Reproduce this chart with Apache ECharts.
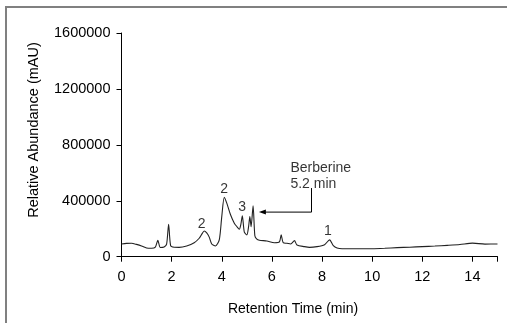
<!DOCTYPE html>
<html><head><meta charset="utf-8">
<script src="https://cdn.jsdelivr.net/npm/echarts@6/dist/echarts.min.js"></script>
<style>html,body{margin:0;padding:0;background:#fff}#c{width:507px;height:323px}</style>
</head><body><div id="c"></div>
<script>
const time = [0,0.2,0.4,0.6,0.8,1.0,1.2,1.35,1.45,1.55,1.7,1.8,1.88,1.96,2.1,2.3,2.6,2.9,3.1,3.2,3.3,3.4,3.5,3.6,3.75,3.9,4.0,4.1,4.2,4.35,4.5,4.6,4.7,4.76,4.82,4.9,5.0,5.07,5.12,5.17,5.25,5.32,5.4,5.5,5.8,6.1,6.3,6.37,6.45,6.6,6.75,6.9,7.0,7.3,7.5,7.8,8.1,8.3,8.45,8.6,8.8,9.5,10,10.5,11,11.5,12,12.5,13,13.5,14,14.5,15];
const abundance = [91000,95000,96000,88000,77000,62000,60000,68000,117000,66000,70000,90000,232000,80000,68000,67000,77000,100000,132000,160000,184000,170000,140000,91000,77000,120000,287000,424000,383000,300000,240000,216000,196000,230000,292000,175000,156000,215000,287000,215000,364000,150000,125000,118000,112000,100000,106000,156000,100000,96000,91000,115000,84000,72000,67000,72000,86000,120000,79000,62000,57000,57000,57000,60000,65000,68000,72000,76000,81000,87000,97000,90000,91000];
const peakTime = [3.2, 4.09, 4.81, 8.23];
const peakLabelY = [233000, 484000, 355000, 184000];
const peakNames = ['2','2','3','1'];
const noteTime = [6.72];
const noteY = [690000];
const noteText = ['Berberine\n5.2 min'];
const arrowTime = [7.58, 7.58, 5.62];
const arrowY = [491000, 319000, 319000];
const xTicks = [0,2,4,6,8,10,12,14];
const yTicks = [0,400000,800000,1200000,1600000];
const xTitle = 'Retention Time (min)';
const yTitle = 'Relative Abundance (mAU)';

const chart = echarts.init(document.getElementById('c'));
const font = 'Liberation Sans, Arial, sans-serif';
chart.setOption({
  animation: false,
  graphic: [
    {type:'rect', shape:{x:6,y:7,width:540,height:340}, style:{fill:'none', stroke:'#808080', lineWidth:2}, silent:true},
    {type:'text', x:293, y:309, style:{text:xTitle, font:'14px ' + font, fill:'#000', align:'center', verticalAlign:'middle'}},
    {type:'text', x:34, y:130, rotation:Math.PI/2, style:{text:yTitle, font:'14.5px ' + font, fill:'#000', align:'center', verticalAlign:'middle'}}
  ],
  grid: {left:121.5, right:9.5, top:33, bottom:66.3},
  xAxis: {type:'value', min:0, max:15, interval:2,
    axisLine:{lineStyle:{color:'#000', width:1}},
    axisTick:{length:5, lineStyle:{color:'#000'}},
    axisLabel:{fontFamily:font, fontSize:14.5, color:'#000', margin:13,
      formatter: v => xTicks.includes(v) ? String(v) : ''},
    splitLine:{show:false}},
  yAxis: {type:'value', min:0, max:1600000, interval:400000,
    axisLine:{show:true, lineStyle:{color:'#000', width:1}},
    axisTick:{show:true, length:5, lineStyle:{color:'#000'}},
    axisLabel:{fontFamily:font, fontSize:14.5, color:'#000', margin:11,
      formatter: v => yTicks.includes(v) ? String(v) : ''},
    splitLine:{show:false}},
  series: [
    {type:'line', data: time.map((t,i)=>[t, abundance[i]]), showSymbol:false, smooth:0.25,
     lineStyle:{color:'#222', width:1.1}},
    {type:'scatter', data: peakTime.map((t,i)=>[t, peakLabelY[i]]), symbolSize:1,
     itemStyle:{color:'transparent'},
     label:{show:true, position:'inside', fontFamily:font, fontSize:14, color:'#000',
       formatter: p => peakNames[p.dataIndex]}},
    {type:'scatter', data: noteTime.map((t,i)=>[t, noteY[i]]), symbolSize:1,
     itemStyle:{color:'transparent'},
     label:{show:true, position:'right', distance:0, align:'left', verticalAlign:'top',
       fontFamily:font, fontSize:14, color:'#000', lineHeight:16,
       formatter: p => noteText[p.dataIndex]}},
    {type:'line', data: arrowTime.map((t,i)=>({value:[t, arrowY[i]],
        symbol: i===arrowTime.length-1 ? 'triangle' : 'none', symbolSize:[5,7], symbolRotate:90})),
     showSymbol:true, lineStyle:{color:'#000', width:1}, itemStyle:{color:'#000'}}
  ]
});
</script></body></html>
